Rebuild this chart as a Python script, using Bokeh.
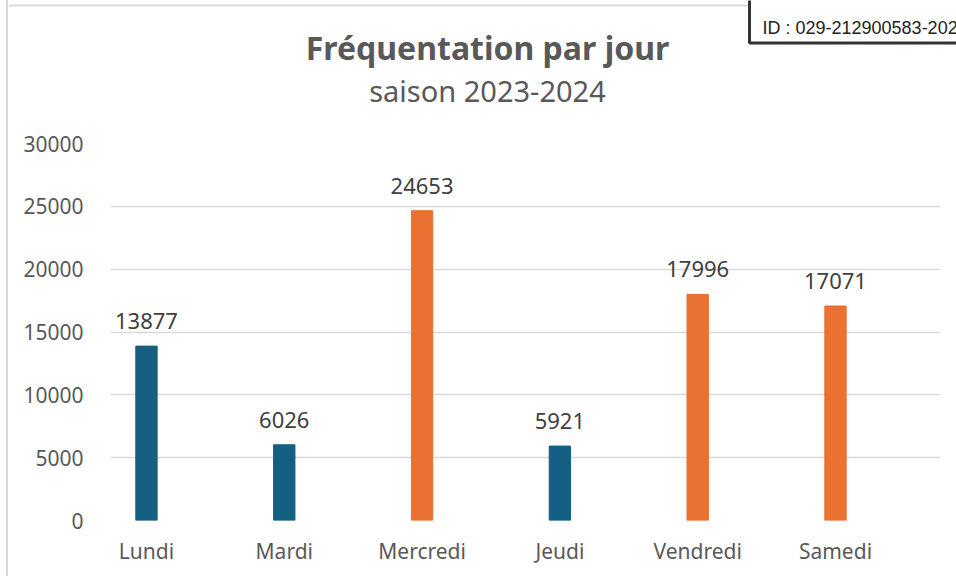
from bokeh.plotting import figure
from bokeh.layouts import column
from bokeh.models import (ColumnDataSource, Range1d, FixedTicker, Label,
                          LabelSet, NumeralTickFormatter, Span)
from bokeh.core.properties import value
from bokeh.embed import file_html
from bokeh.resources import INLINE

# Attendance per weekday, season 2023-2024
jours = ["Lundi", "Mardi", "Mercredi", "Jeudi", "Vendredi", "Samedi"]
frequentation = [13877, 6026, 24653, 5921, 17996, 17071]
groupe = ["bleu", "bleu", "orange", "bleu", "orange", "orange"]
y_ticks = [0, 5000, 10000, 15000, 20000, 25000, 30000]

titre = "Fréquentation par jour"
sous_titre = "saison 2023-2024"
identifiant = "ID : 029-212900583-20240"

palette = {"bleu": "#156082", "orange": "#E97132"}
FONT = "Noto Sans"
GREY = "#595959"
BORDER = "#d9d9d9"

# ---------------------------------------------------------------- header
# pixel-like coordinates: x grows to the right, y grows downward
head = figure(width=948, height=120, output_backend="svg", toolbar_location=None,
              x_range=Range1d(8, 956), y_range=Range1d(120, 0),
              x_axis_location=None, y_axis_location=None,
              min_border=0, frame_align=False)
head.grid.visible = False
head.outline_line_color = None
head.background_fill_color = "white"
head.border_fill_color = "white"

head.add_layout(Span(location=5, dimension="width", line_color=BORDER,
                     line_width=2))
head.add_layout(Label(x=487, y=47, text=titre, text_align="center",
                      text_baseline="middle", text_font=FONT,
                      text_font_size="32px", text_font_style="bold",
                      text_color=GREY))
head.add_layout(Label(x=487, y=90, text=sous_titre, text_align="center",
                      text_baseline="middle", text_font=FONT,
                      text_font_size="29px", text_color=GREY))
# stamp box: anchored at its bottom-left corner
head.add_layout(Label(x=749, y=42.5, text=identifiant, text_align="left",
                      text_baseline="bottom", text_font="Liberation Sans",
                      text_font_size="18px", text_color="#222222",
                      border_line_color="#333333", border_line_width=3,
                      background_fill_color="white",
                      padding=(13, 30, 30, 5)))

# ---------------------------------------------------------------- chart
xs = [i + 0.5 for i in range(len(jours))]
src = ColumnDataSource(dict(
    x=xs,
    y=frequentation,
    color=[palette[g] for g in groupe],
    label=[str(v) for v in frequentation],
))

p = figure(width=948, height=456, output_backend="svg", toolbar_location=None,
           x_range=Range1d(0.239, 6.262), y_range=Range1d(0, 30000),
           min_border_left=102, min_border_right=16, min_border_top=23,
           min_border_bottom=56, frame_align=False)
p.outline_line_color = None
p.background_fill_color = "white"
p.border_fill_color = "white"

p.vbar(x="x", top="y", width=0.155, color="color", source=src)

p.add_layout(LabelSet(x="x", y="y", text="label", source=src,
                      text_align="center", text_baseline="bottom", y_offset=17,
                      text_font=value(FONT), text_font_size="22px",
                      text_color="#404040"))

# y axis
p.yaxis.ticker = FixedTicker(ticks=y_ticks)
p.yaxis.formatter = NumeralTickFormatter(format="0")
p.yaxis.axis_line_color = None
p.yaxis.major_tick_line_color = None
p.yaxis.minor_tick_line_color = None
p.yaxis.major_label_text_font = FONT
p.yaxis.major_label_text_font_size = "21px"
p.yaxis.major_label_text_color = GREY
p.yaxis.major_label_standoff = 21

# x axis
p.xaxis.ticker = FixedTicker(ticks=xs)
p.xaxis.major_label_overrides = {x: j for x, j in zip(xs, jours)}
p.xaxis.axis_line_color = None
p.xaxis.major_tick_line_color = None
p.xaxis.minor_tick_line_color = None
p.xaxis.major_label_text_font = FONT
p.xaxis.major_label_text_font_size = "21px"
p.xaxis.major_label_text_color = GREY
p.xaxis.major_label_standoff = 10

p.xgrid.grid_line_color = None
p.ygrid.grid_line_color = BORDER
p.ygrid.grid_line_width = 1.5

layout = column(head, p, spacing=0,
                styles={"margin-left": "6px", "border-left": f"2px solid {BORDER}"})

open("out.html", "w").write(file_html(layout, INLINE))
